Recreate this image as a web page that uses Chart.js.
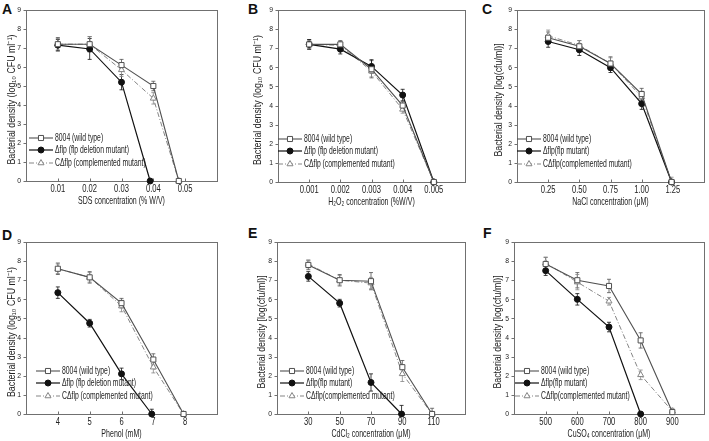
<!DOCTYPE html>
<html>
<head>
<meta charset="utf-8">
<script src="https://cdn.jsdelivr.net/npm/chart.js@4.4.0/dist/chart.umd.min.js"></script>
<style>
  body { margin: 0; background: #fff; width: 709px; height: 441px; position: relative; overflow: hidden; }
  .letter { position: absolute; font: bold 14px "Liberation Sans", Arial, sans-serif; line-height: 1; color: #111; }
</style>
</head>
<body>
<div class="letter" style="left:2px;top:2px">A</div>
<div class="letter" style="left:248px;top:2px">B</div>
<div class="letter" style="left:482px;top:2px">C</div>
<div class="letter" style="left:2px;top:228px">D</div>
<div class="letter" style="left:248px;top:226px">E</div>
<div class="letter" style="left:483px;top:226px">F</div>
<script>
// x tick labels for each panel
const sdsTicks = ['0.01', '0.02', '0.03', '0.04', '0.05'];
const h2o2Ticks = ['0.001', '0.002', '0.003', '0.004', '0.005'];
const naclTicks = ['0.25', '0.50', '0.75', '1.00', '1.25'];
const phenolTicks = ['4', '5', '6', '7', '8'];
const cdTicks = ['30', '50', '70', '90', '110'];
const cuTicks = ['500', '600', '700', '800', '900'];
const yTicks = ['0', '1', '2', '3', '4', '5', '6', '7', '8', '9'];

// [concentration, log density, sd]
const sdsWild = [[0.01, 7.2, 0.35], [0.02, 7.2, 0.4], [0.03, 6.1, 0.3], [0.04, 5.0, 0.25], [0.048, 0, 0]];
const sdsMutant = [[0.01, 7.15, 0.3], [0.02, 6.95, 0.55], [0.03, 5.2, 0.4], [0.039, 0, 0]];
const sdsComp = [[0.01, 7.2, 0.3], [0.02, 7.2, 0.4], [0.03, 5.85, 0.35], [0.04, 4.35, 0.3], [0.048, 0, 0]];

const h2o2Wild = [[0.001, 7.2, 0.25], [0.002, 7.2, 0.2], [0.003, 5.9, 0.45], [0.004, 4.0, 0.2], [0.005, 0, 0]];
const h2o2Mutant = [[0.001, 7.2, 0.25], [0.002, 6.95, 0.25], [0.003, 6.05, 0.35], [0.004, 4.55, 0.3], [0.005, 0, 0]];
const h2o2Comp = [[0.001, 7.2, 0.2], [0.002, 7.15, 0.2], [0.003, 5.8, 0.3], [0.004, 3.8, 0.2], [0.005, 0, 0]];

const naclWild = [[0.25, 7.55, 0.3], [0.5, 7.1, 0.3], [0.75, 6.2, 0.35], [1.0, 4.6, 0.3], [1.24, 0, 0]];
const naclMutant = [[0.25, 7.35, 0.3], [0.5, 6.92, 0.3], [0.75, 5.98, 0.25], [1.0, 4.1, 0.3], [1.24, 0, 0]];
const naclComp = [[0.25, 7.65, 0.3], [0.5, 7.15, 0.25], [0.75, 6.2, 0.3], [1.0, 4.45, 0.3], [1.24, 0, 0.25]];

const phenolWild = [[4, 7.6, 0.3], [5, 7.15, 0.3], [6, 5.8, 0.25], [7, 2.85, 0.3], [7.95, 0, 0]];
const phenolMutant = [[4, 6.35, 0.3], [5, 4.75, 0.2], [6, 2.1, 0.3], [6.95, 0, 0.25]];
const phenolComp = [[4, 7.6, 0.25], [5, 7.15, 0.25], [6, 5.65, 0.3], [7, 2.45, 0.3], [7.95, 0, 0]];

const cdWild = [[30, 7.8, 0.25], [50, 7.0, 0.3], [70, 6.95, 0.45], [90, 2.45, 0.35], [109, 0, 0.3]];
const cdMutant = [[30, 7.2, 0.25], [50, 5.8, 0.2], [70, 1.65, 0.45], [89.5, 0, 0.45]];
const cdComp = [[30, 7.85, 0.2], [50, 7.0, 0.25], [70, 6.85, 0.3], [90, 2.1, 0.4], [109, 0, 0]];

const cuWild = [[500, 7.85, 0.35], [600, 7.0, 0.4], [700, 6.7, 0.35], [800, 3.85, 0.4], [900, 0.1, 0.15]];
const cuMutant = [[500, 7.5, 0.25], [600, 6.0, 0.3], [700, 4.55, 0.25], [800, 0, 0]];
const cuComp = [[500, 7.9, 0.3], [600, 6.9, 0.4], [700, 5.9, 0.2], [800, 2.05, 0.25], [900, 0.15, 0.15]];

const legendDeletion = ['8004 (wild type)', 'Δflp (flp deletion mutant)', 'CΔflp (complemented mutant)'];
const legendMutant = ['8004 (wild type)', 'Δflp(flp mutant)', 'CΔflp(complemented mutant)'];
const yTitleCfu = 'Bacterial density (log₁₀ CFU ml⁻¹)';
const yTitleLog = 'Bacterial density [log(cfu/ml)]';

const FONT = '"Liberation Sans", Arial, sans-serif';
const TEXT = '#222';
const FRAME = '#707070';

const seriesStyles = [
  { borderColor: '#505050', borderWidth: 1.1, pointStyle: 'rect', pointRadius: 3.6, pointBackgroundColor: '#fff', pointBorderColor: '#505050' },
  { borderColor: '#111', borderWidth: 1.2, pointStyle: 'circle', pointRadius: 3, pointBackgroundColor: '#111', pointBorderColor: '#111' },
  { borderColor: '#858585', borderWidth: 1, borderDash: [5, 2, 1, 2], pointStyle: 'triangle', pointRadius: 3.5, pointBackgroundColor: '#fff', pointBorderColor: '#858585' }
];

// condensed text: the figure uses a narrow face, so squeeze horizontally
function narrowText(ctx, text, x, y, size, sx, align, rotate) {
  ctx.save();
  ctx.translate(x, y);
  if (rotate) ctx.rotate(-Math.PI / 2);
  ctx.scale(sx, 1);
  ctx.font = size + 'px ' + FONT;
  ctx.fillStyle = TEXT;
  ctx.textAlign = align;
  ctx.textBaseline = 'middle';
  ctx.fillText(text, 0, 0);
  ctx.restore();
}

// box round the plot area plus tick marks
const framePlugin = {
  id: 'frame',
  beforeDatasetsDraw(chart) {
    const { ctx, chartArea: a, scales: { x, y } } = chart;
    const L = Math.round(a.left) + 0.5, T = Math.round(a.top) + 0.5;
    const R = Math.round(a.right) + 0.5, B = Math.round(a.bottom) + 0.5;
    ctx.save();
    ctx.strokeStyle = FRAME;
    ctx.lineWidth = 1;
    ctx.strokeRect(L, T, R - L, B - T);
    ctx.beginPath();
    y.ticks.forEach(t => {
      const py = Math.round(y.getPixelForValue(t.value)) + 0.5;
      ctx.moveTo(L - 3, py); ctx.lineTo(L, py);
    });
    x.ticks.forEach(t => {
      const px = Math.round(x.getPixelForValue(t.value)) + 0.5;
      ctx.moveTo(px, B); ctx.lineTo(px, B - 3);
    });
    ctx.stroke();
    ctx.restore();
  }
};

// vertical sd bars with small caps
const errorBarPlugin = {
  id: 'errorBars',
  beforeDatasetsDraw(chart) {
    const { ctx, scales: { x, y } } = chart;
    chart.data.datasets.forEach(ds => {
      ctx.save();
      ctx.strokeStyle = ds.borderColor;
      ctx.lineWidth = 0.8;
      ds.data.forEach(pt => {
        if (!pt.e) return;
        const px = x.getPixelForValue(pt.x);
        const top = y.getPixelForValue(pt.y + pt.e);
        const bot = y.getPixelForValue(Math.max(0, pt.y - pt.e));
        ctx.beginPath();
        ctx.moveTo(px, top); ctx.lineTo(px, bot);
        ctx.moveTo(px - 2, top); ctx.lineTo(px + 2, top);
        ctx.moveTo(px - 2, bot); ctx.lineTo(px + 2, bot);
        ctx.stroke();
      });
      ctx.restore();
    });
  }
};

// tick labels, axis titles and the legend inside the plot
const textPlugin = {
  id: 'panelText',
  afterDraw(chart) {
    const { ctx, chartArea: a, scales: { x, y } } = chart;
    const p = chart.options.plugins.panelText;
    y.ticks.forEach(t => narrowText(ctx, yTicks[t.value], a.left - 5, y.getPixelForValue(t.value), 8, 0.85, 'right'));
    x.ticks.forEach((t, i) => narrowText(ctx, p.ticks[i], x.getPixelForValue(t.value), a.bottom + 8, 10, 0.76, 'center'));
    narrowText(ctx, p.xTitle, (a.left + a.right) / 2, a.bottom + 20, 11, 0.64, 'center');
    narrowText(ctx, p.yTitle, p.yTitleX, (a.top + a.bottom) / 2 + 4, 10.5, 0.84, 'center', true);

    const rows = [43, 31, 18];
    chart.data.datasets.forEach((ds, i) => {
      const yy = a.bottom - rows[i];
      const tx = a.left + p.legendX;
      ctx.save();
      ctx.strokeStyle = ds.borderColor;
      ctx.lineWidth = ds.borderWidth;
      ctx.setLineDash(ds.borderDash || []);
      ctx.beginPath();
      ctx.moveTo(tx - 26, yy); ctx.lineTo(tx - 2, yy);
      ctx.stroke();
      ctx.setLineDash([]);
      ctx.fillStyle = ds.pointBackgroundColor;
      ctx.strokeStyle = ds.pointBorderColor;
      ctx.lineWidth = 1;
      Chart.helpers.drawPoint(ctx, { pointStyle: ds.pointStyle, radius: ds.pointRadius, rotation: 0, borderWidth: 1 }, tx - 14, yy);
      ctx.restore();
      narrowText(ctx, ds.label, tx, yy, 10.5, 0.65, 'left');
    });
  }
};

const panels = [
  { box: [0, 0, 235, 215], area: [26, 10, 217, 181], yTitleX: 12, legendX: 29, xMin: 0, xMax: 0.06, ticks: sdsTicks,
    xTitle: 'SDS concentration (% W/V)', yTitle: yTitleCfu, labels: legendDeletion, series: [sdsWild, sdsMutant, sdsComp] },
  { box: [235, 0, 235, 215], area: [278, 10, 465, 182], yTitleX: 258, legendX: 26, xMin: 0, xMax: 0.006, ticks: h2o2Ticks,
    xTitle: 'H₂O₂ concentration (%W/V)', yTitle: yTitleCfu, labels: legendDeletion, series: [h2o2Wild, h2o2Mutant, h2o2Comp] },
  { box: [470, 0, 239, 215], area: [517, 10, 708, 182], yTitleX: 499, legendX: 26, xMin: 0, xMax: 1.5, ticks: naclTicks,
    xTitle: 'NaCl concentration (μM)', yTitle: yTitleLog, labels: legendMutant, series: [naclWild, naclMutant, naclComp] },
  { box: [0, 215, 235, 226], area: [26, 242, 217, 414], yTitleX: 12, legendX: 36, xMin: 3, xMax: 9, ticks: phenolTicks,
    xTitle: 'Phenol (mM)', yTitle: yTitleCfu, labels: legendDeletion, series: [phenolWild, phenolMutant, phenolComp] },
  { box: [235, 215, 235, 226], area: [277, 242, 465, 414], yTitleX: 262, legendX: 29, xMin: 10, xMax: 130, ticks: cdTicks,
    xTitle: 'CdCl₂ concentration (μM)', yTitle: yTitleLog, labels: legendMutant, series: [cdWild, cdMutant, cdComp] },
  { box: [470, 215, 239, 226], area: [514, 242, 706, 414], yTitleX: 498, legendX: 27, xMin: 400, xMax: 1000, ticks: cuTicks,
    xTitle: 'CuSO₄ concentration (μM)', yTitle: yTitleLog, labels: legendMutant, series: [cuWild, cuMutant, cuComp] }
];

function makePanel(p) {
  const [cx, cy, cw, ch] = p.box;
  const [l, t, r, b] = p.area;
  const canvas = document.createElement('canvas');
  canvas.width = cw;
  canvas.height = ch;
  canvas.style.cssText = `position:absolute;left:${cx}px;top:${cy}px;width:${cw}px;height:${ch}px`;
  document.body.appendChild(canvas);

  new Chart(canvas, {
    type: 'line',
    data: {
      datasets: p.series.map((s, i) => Object.assign({
        label: p.labels[i],
        data: s.map(d => ({ x: d[0], y: d[1], e: d[2] })),
        tension: 0,
        clip: false,
        pointBorderWidth: 1,
        fill: false
      }, seriesStyles[i]))
    },
    options: {
      responsive: false,
      animation: false,
      events: [],
      layout: { padding: { left: 0, top: t - cy, right: cx + cw - r, bottom: 0 } },
      plugins: {
        legend: { display: false },
        tooltip: { enabled: false },
        panelText: { ticks: p.ticks, xTitle: p.xTitle, yTitle: p.yTitle, yTitleX: p.yTitleX - cx, legendX: p.legendX }
      },
      scales: {
        x: {
          type: 'linear', min: p.xMin, max: p.xMax,
          afterFit: s => { s.height = cy + ch - b; },
          afterBuildTicks: s => { s.ticks = p.ticks.map(v => ({ value: +v })); },
          ticks: { display: false },
          grid: { display: false },
          border: { display: false }
        },
        y: {
          min: 0, max: 9,
          afterFit: s => { s.width = l - cx; },
          ticks: { display: false, stepSize: 1 },
          grid: { display: false },
          border: { display: false }
        }
      }
    },
    plugins: [framePlugin, errorBarPlugin, textPlugin]
  });
}

panels.forEach(makePanel);
</script>
</body>
</html>
